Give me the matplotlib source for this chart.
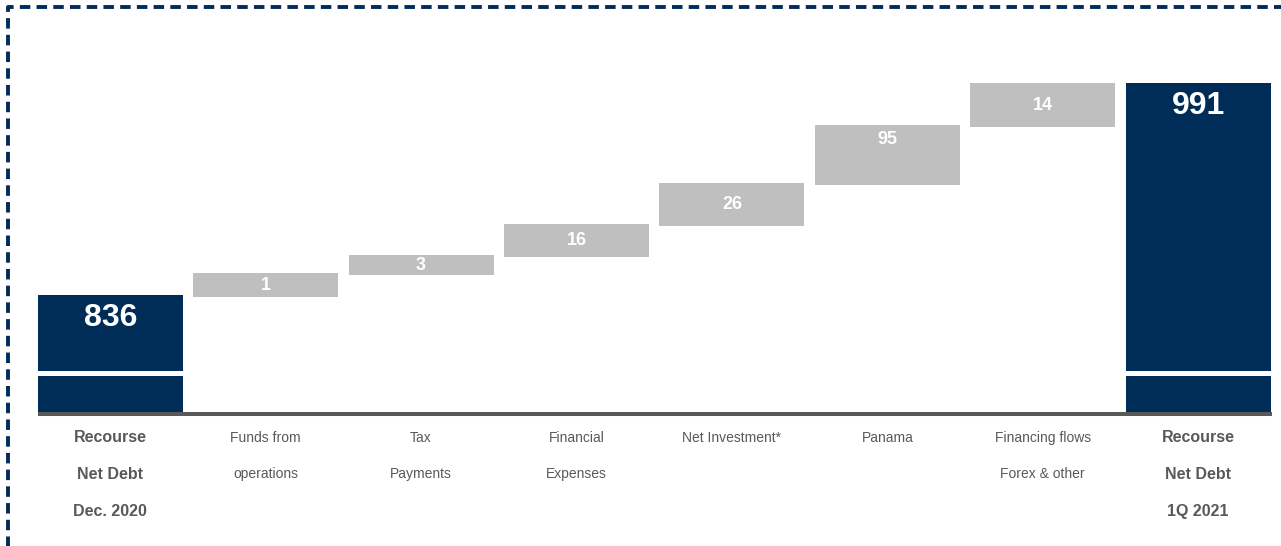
#Recourse net debt bridge, Dec. 2020 to 1Q 2021


from matplotlib import pyplot as plt
from matplotlib.lines import Line2D
import numpy as np


# Chart data

categories = ['Recourse\nNet Debt\nDec. 2020', 'Funds from\noperations', 'Tax\nPayments',
              'Financial\nExpenses', 'Net Investment*', 'Panama',
              'Financing flows\nForex & other', 'Recourse\nNet Debt\n1Q 2021']
values = [836, 1, 3, 16, 26, 95, 14, 991]
is_total = [True, False, False, False, False, False, False, True]

# the slide draws the bridge schematically, not to scale:
# bar sizes as they appear on the chart (chart units)
shown_size = [117, 24, 20, 33, 43, 60, 44]
overlap = 2

navy = '#002D57'
grey_bar = '#BFBFBF'
grey_text = '#595959'

plt.rcParams['font.family'] = ['Liberation Sans', 'DejaVu Sans']

# Work out the floating bars

bottoms = []
heights = []
level = 0
for i in range(len(values) - 1):
    if is_total[i]:
        bottoms.append(0)
        heights.append(shown_size[i])
        level = shown_size[i]
    else:
        b = level - overlap
        bottoms.append(b)
        heights.append(shown_size[i])
        level = b + shown_size[i]
bottoms.append(0)
heights.append(level)
bottoms = np.array(bottoms)
heights = np.array(heights)
tops = bottoms + heights

# Plot

fig = plt.figure(figsize=(12.81, 5.46), dpi=100)
ax = fig.add_axes([0.0254, 0, 0.9706, 1])
x = np.arange(len(values))
colors = [navy if t else grey_bar for t in is_total]
ax.bar(x, heights, bottom=bottoms, width=0.933, color=colors, linewidth=0, zorder=2)

# white break across the total bars
tx = x[np.array(is_total)]
ax.bar(tx, 5, bottom=36, width=0.94, color='white', linewidth=0, zorder=3)

ax.hlines(-2, -0.466, 7.473, color=grey_text, linewidth=2.9, zorder=4)

# Value labels

for i, v in enumerate(values):
    if is_total[i]:
        ax.text(x[i], tops[i] - 23, str(v), ha='center', va='center', color='white',
                fontsize=23, fontweight='bold', zorder=5)
    else:
        if heights[i] > 50:
            yl = tops[i] - 15
        else:
            yl = bottoms[i] + heights[i] / 2
        ax.text(x[i], yl, str(v), ha='center', va='center', color='white',
                fontsize=13, fontweight='bold', zorder=5)

# Category labels

for i, c in enumerate(categories):
    for j, line in enumerate(c.split('\n')):
        if is_total[i]:
            ax.text(x[i], -30 - 37 * j, line, ha='center', va='baseline', color=grey_text,
                    fontsize=11.5, fontweight='bold')
        else:
            ax.text(x[i], -30 - 36 * j, line, ha='center', va='baseline', color=grey_text,
                    fontsize=10)

ax.set_xlim(-0.5, 7.5)
ax.set_ylim(-134, 412)
ax.axis('off')

# Dashed frame of the slide box

x0 = 8 / 1281
y0 = 1 - 7 / 546
fig.add_artist(Line2D([x0, x0, 1.01], [-0.01, y0, y0], transform=fig.transFigure,
                      color=navy, linewidth=2.8, linestyle=(0, (2.7, 1.6))))

fig.savefig('out.png', dpi=100)
